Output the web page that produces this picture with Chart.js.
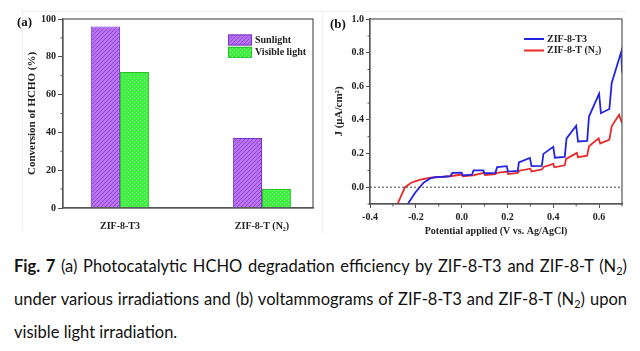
<!DOCTYPE html>
<html>
<head>
<meta charset="utf-8">
<script src="https://cdn.jsdelivr.net/npm/chart.js@4.4.0/dist/chart.umd.min.js"></script>
<style>
  body { margin: 0; background: #fff; width: 640px; height: 351px; overflow: hidden; position: relative; }
  canvas { position: absolute; top: 0; }
  #chartA { left: 0; }
  #chartB { left: 320px; }
  .edge { position: absolute; border-top: 1px solid #efefef; border-left: 1px solid #efefef; }
  .tag { position: absolute; font: bold 13px "Liberation Serif", serif; line-height: 15px; color: #111; }
  .cap { position: absolute; left: 14px; width: 613px; font-family: Lato, sans-serif; font-size: 16.5px;
         line-height: 20px; color: #111; text-align: justify; text-align-last: justify; }
  .cap.last { text-align-last: left; }
  .cap sub { font-size: 11px; vertical-align: -3px; line-height: 0; }
</style>
</head>
<body>
<div class="edge" style="left:22px;top:11px;width:298px;height:218px"></div>
<div class="edge" style="left:322px;top:11px;width:303px;height:222px"></div>
<canvas id="chartA" width="320" height="240"></canvas>
<canvas id="chartB" width="320" height="240"></canvas>
<div class="tag" style="left:17px;top:14px">(a)</div>
<div class="tag" style="left:330px;top:16px">(b)</div>
<div class="cap" style="top:256px"><b>Fig. 7</b> (a) Photocatalytic HCHO degradation efficiency by ZIF-8-T3 and ZIF-8-T (N<sub>2</sub>)</div>
<div class="cap" style="top:289px">under various irradiations and (b) voltammograms of ZIF-8-T3 and ZIF-8-T (N<sub>2</sub>) upon</div>
<div class="cap last" style="top:322px">visible light irradiation.</div>
<script>
// (a) HCHO conversion
const categories = ['ZIF-8-T3', 'ZIF-8-T (N₂)'];
const sunlight = [96, 37];
const visibleLight = [72, 10];

// (b) voltammograms, potential (V) and current density (uA/cm2)
const potT3 = [-0.235, -0.203, -0.167, -0.137, -0.116, -0.08, -0.05, -0.04, 0.0, 0.005, 0.045, 0.052,
  0.095, 0.1, 0.147, 0.155, 0.197, 0.202, 0.245, 0.25, 0.298, 0.305, 0.35, 0.357, 0.4, 0.407, 0.45,
  0.458, 0.5, 0.508, 0.548, 0.556, 0.6, 0.608, 0.645, 0.655, 0.697, 0.7];
const curT3 = [-0.1, -0.033, 0.026, 0.052, 0.06, 0.062, 0.065, 0.085, 0.087, 0.07, 0.074, 0.1,
  0.1, 0.083, 0.085, 0.119, 0.125, 0.093, 0.097, 0.148, 0.174, 0.125, 0.127, 0.198, 0.24, 0.175, 0.18,
  0.29, 0.365, 0.272, 0.275, 0.42, 0.556, 0.44, 0.465, 0.62, 0.807, 0.68];
const potN2 = [-0.28, -0.247, -0.218, -0.18, -0.137, -0.1, -0.05, 0.0, 0.005, 0.05, 0.097, 0.102,
  0.148, 0.152, 0.198, 0.203, 0.245, 0.252, 0.3, 0.305, 0.35, 0.358, 0.4, 0.405, 0.45, 0.456, 0.503,
  0.508, 0.548, 0.556, 0.598, 0.605, 0.645, 0.655, 0.687, 0.7];
const curN2 = [-0.1, 0.0, 0.028, 0.045, 0.056, 0.06, 0.065, 0.075, 0.065, 0.07, 0.085, 0.072,
  0.078, 0.085, 0.092, 0.078, 0.085, 0.098, 0.11, 0.094, 0.105, 0.12, 0.138, 0.118, 0.13, 0.168, 0.204,
  0.178, 0.187, 0.243, 0.29, 0.259, 0.283, 0.362, 0.431, 0.38];

const serif = "'Liberation Serif', 'Times New Roman', serif";
const tickFont = { family: serif, size: 10, weight: 'bold' };
const axisColor = '#555';
const textColor = '#222';

function makePattern(ctx, bg, fg, kind) {
  const tile = document.createElement('canvas');
  tile.width = tile.height = 4;
  const g = tile.getContext('2d');
  g.fillStyle = bg;
  g.fillRect(0, 0, 4, 4);
  g.fillStyle = fg;
  if (kind === 'diag') {
    for (let i = 0; i < 4; i++) g.fillRect(i, 3 - i, 1, 1);
  } else {
    g.fillRect(0, 0, 1, 1);
    g.fillRect(2, 2, 1, 1);
  }
  return ctx.createPattern(tile, 'repeat');
}

// box round the plot, minor ticks and optional zero line
const framePlugin = {
  id: 'frame',
  afterDraw(chart, args, opts) {
    const { ctx, chartArea: a } = chart;
    ctx.save();
    ctx.strokeStyle = axisColor;
    ctx.lineWidth = 1.2;
    ctx.strokeRect(a.left, a.top, a.right - a.left, a.bottom - a.top);
    ctx.lineWidth = 1;
    (opts.minor || []).forEach(id => {
      const s = chart.scales[id];
      const vals = s.ticks.map(t => t.value);
      const step = vals[1] - vals[0];
      for (let v = vals[0] - step / 2; v <= s.max + 1e-9; v += step) {
        if (v < s.min - 1e-9) continue;
        const p = s.getPixelForValue(v);
        ctx.beginPath();
        if (s.isHorizontal()) { ctx.moveTo(p, a.bottom); ctx.lineTo(p, a.bottom + 2.5); }
        else { ctx.moveTo(a.left, p); ctx.lineTo(a.left - 2.5, p); }
        ctx.stroke();
      }
    });
    if (opts.zeroLine) {
      const y = chart.scales.y.getPixelForValue(0);
      ctx.strokeStyle = '#444';
      ctx.setLineDash([2, 2]);
      ctx.beginPath();
      ctx.moveTo(a.left, y);
      ctx.lineTo(a.right, y);
      ctx.stroke();
    }
    ctx.restore();
  }
};

// legend drawn inside the plot
const insideLegend = {
  id: 'insideLegend',
  afterDraw(chart, args, opts) {
    const ctx = chart.ctx;
    ctx.save();
    ctx.font = 'bold 10px ' + serif;
    ctx.textBaseline = 'middle';
    chart.data.datasets.forEach((ds, i) => {
      const cy = opts.y + i * opts.row;
      if (opts.kind === 'box') {
        ctx.fillStyle = ds.backgroundColor;
        ctx.fillRect(opts.x, cy - 5.5, 24, 11);
        ctx.strokeStyle = ds.borderColor;
        ctx.lineWidth = 1;
        ctx.strokeRect(opts.x + 0.5, cy - 5, 23, 10);
      } else {
        ctx.strokeStyle = ds.borderColor;
        ctx.lineWidth = 2;
        ctx.beginPath();
        ctx.moveTo(opts.x, cy);
        ctx.lineTo(opts.x + 20, cy);
        ctx.stroke();
      }
      ctx.fillStyle = textColor;
      ctx.fillText(ds.label, opts.x + opts.gap, cy);
    });
    ctx.restore();
  }
};

const ctxA = document.getElementById('chartA').getContext('2d');
const purple = makePattern(ctxA, '#b873f2', '#9447d6', 'diag');
const green = makePattern(ctxA, '#3df03d', '#a0ffa0', 'dots');

new Chart(ctxA, {
  type: 'bar',
  data: {
    datasets: [
      { label: 'Sunlight', data: sunlight.map((v, i) => ({ x: i, y: v })),
        backgroundColor: purple, borderColor: '#7a35c6', borderWidth: 1 },
      { label: 'Visible light', data: visibleLight.map((v, i) => ({ x: i, y: v })),
        backgroundColor: green, borderColor: '#2bbf2b', borderWidth: 1 }
    ]
  },
  options: {
    responsive: false,
    animation: false,
    devicePixelRatio: 1,
    categoryPercentage: 0.41,
    barPercentage: 1,
    layout: { padding: { left: 22, top: 19, right: 7, bottom: 0 } },
    scales: {
      x: {
        type: 'linear', min: -0.401, max: 1.359, offset: false,
        afterBuildTicks: s => { s.ticks = categories.map((c, i) => ({ value: i })); },
        afterFit: s => { s.height = 32; },
        ticks: { callback: v => categories[v], font: tickFont, color: textColor, padding: 4, maxRotation: 0 },
        grid: { display: false, offset: false },
        border: { color: axisColor, width: 1.2 }
      },
      y: {
        min: 0, max: 100,
        afterFit: s => { s.width = 41; },
        ticks: { stepSize: 20, font: tickFont, color: textColor, padding: 2 },
        grid: { drawOnChartArea: false, tickLength: 5, color: axisColor },
        border: { color: axisColor, width: 1.2 },
        title: { display: true, text: 'Conversion of HCHO (%)', color: textColor,
                 font: { family: serif, size: 11, weight: 'bold' }, padding: { top: 4, bottom: 0 } }
      }
    },
    plugins: {
      legend: { display: false },
      tooltip: { enabled: false },
      frame: { minor: ['y'] },
      insideLegend: { kind: 'box', x: 228, y: 40, row: 12.3, gap: 27 }
    }
  },
  plugins: [framePlugin, insideLegend]
});

new Chart(document.getElementById('chartB'), {
  type: 'line',
  data: {
    datasets: [
      { label: 'ZIF-8-T3', data: potT3.map((x, i) => ({ x, y: curT3[i] })),
        borderColor: '#2424e0', borderWidth: 1.8, pointRadius: 0, tension: 0 },
      { label: 'ZIF-8-T (N₂)', data: potN2.map((x, i) => ({ x, y: curN2[i] })),
        borderColor: '#e82a2a', borderWidth: 1.8, pointRadius: 0, tension: 0 }
    ]
  },
  options: {
    responsive: false,
    animation: false,
    devicePixelRatio: 1,
    layout: { padding: { left: 9, top: 19, right: 18, bottom: 0 } },
    scales: {
      x: {
        type: 'linear', min: -0.4, max: 0.7,
        afterFit: s => { s.height = 36; },
        ticks: { stepSize: 0.2, includeBounds: false, callback: v => v.toFixed(1),
                 font: tickFont, color: textColor, padding: 3, maxRotation: 0 },
        grid: { drawOnChartArea: false, tickLength: 4, color: axisColor },
        border: { color: axisColor, width: 1.2 },
        title: { display: true, text: 'Potential applied (V vs. Ag/AgCl)', color: textColor,
                 font: { family: serif, size: 10, weight: 'bold' }, padding: { top: 0, bottom: 3 } }
      },
      y: {
        min: -0.1, max: 1.0,
        afterFit: s => { s.width = 41; },
        ticks: { stepSize: 0.2, includeBounds: false, callback: v => v.toFixed(1),
                 font: tickFont, color: textColor, padding: 2 },
        grid: { drawOnChartArea: false, tickLength: 4, color: axisColor },
        border: { color: axisColor, width: 1.2 },
        title: { display: true, text: 'J (μA/cm²)', color: textColor,
                 font: { family: serif, size: 11, weight: 'bold' }, padding: { top: 4, bottom: 0 } }
      }
    },
    plugins: {
      legend: { display: false },
      tooltip: { enabled: false },
      frame: { minor: ['x', 'y'], zeroLine: true },
      insideLegend: { kind: 'line', x: 204, y: 39, row: 11.5, gap: 23 }
    }
  },
  plugins: [framePlugin, insideLegend]
});
</script>
</body>
</html>
